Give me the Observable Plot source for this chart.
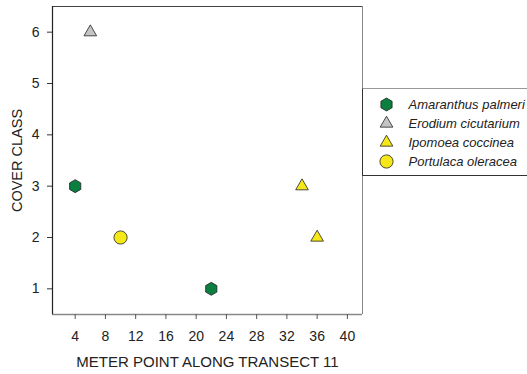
<!DOCTYPE html>
<html><head><meta charset="utf-8">
<script src="https://cdn.jsdelivr.net/npm/d3@7"></script>
<script src="https://cdn.jsdelivr.net/npm/@observablehq/plot@0.6"></script>
<style>
body{margin:0;background:#fff;font-family:"Liberation Sans",Arial,sans-serif;}
#wrap{position:relative;width:527px;height:374px;overflow:hidden;}
#chart{position:absolute;left:0;top:0;}
#legend{position:absolute;left:362px;top:88px;width:170px;height:88px;border-left:1px solid #333;border-top:1px solid #999;border-bottom:1px solid #333;box-sizing:border-box;background:#fff;}
#legend svg{display:block;}
</style></head><body><div id="wrap"><div id="chart"></div><div id="legend"></div></div>
<script>
// ---- data ----
const species = ["Amaranthus palmeri", "Erodium cicutarium", "Ipomoea coccinea", "Portulaca oleracea"];
const pointSpecies = ["Amaranthus palmeri", "Amaranthus palmeri", "Erodium cicutarium", "Ipomoea coccinea", "Ipomoea coccinea", "Portulaca oleracea"];
const meterPoints = [4, 22, 6, 34, 36, 10];
const coverClasses = [3, 1, 6, 3, 2, 2];
const xTicks = [4, 8, 12, 16, 20, 24, 28, 32, 36, 40];
const yTicks = [1, 2, 3, 4, 5, 6];
const xLabel = "METER POINT ALONG TRANSECT 11";
const yLabel = "COVER CLASS";

// ---- styles ----
const style = {
  "Amaranthus palmeri": {symbol: "hexagon", fill: "#0a7f3f", r: 5.6},
  "Erodium cicutarium": {symbol: "triangle", fill: "#c4c4c4", r: 4.7},
  "Ipomoea coccinea": {symbol: "triangle", fill: "#f6e818", r: 4.7},
  "Portulaca oleracea": {symbol: "circle", fill: "#f6e818", r: 6.6}
};
const xDomain = [1, 42];
const yDomain = [0.5, 6.5];

const points = meterPoints.map((m, i) => ({x: m, y: coverClasses[i], s: pointSpecies[i]}));

const chart = Plot.plot({
  width: 527, height: 374,
  marginLeft: 52, marginRight: 165, marginTop: 6, marginBottom: 60,
  style: {fontFamily: "'Liberation Sans', Arial, sans-serif", fontSize: "14px", color: "#222", background: "#fff"},
  x: {domain: xDomain, axis: null},
  y: {domain: yDomain, axis: null},
  symbol: {type: "identity"},
  color: {type: "identity"},
  r: {type: "identity"},
  marks: [
    Plot.ruleY([yDomain[1]], {stroke: "#444", strokeWidth: 1}),
    Plot.ruleX([xDomain[1]], {stroke: "#888", strokeWidth: 1}),
    Plot.ruleY([yDomain[0]], {stroke: "#888", strokeWidth: 1.6}),
    Plot.ruleX([xDomain[0]], {stroke: "#222", strokeWidth: 1.2}),
    Plot.axisX(xTicks, {ticks: xTicks, tickFormat: d => String(d), tickSize: 5, tickPadding: 12, stroke: "#555", fill: "#222", fontSize: 14, label: null}),
    Plot.axisY(yTicks, {ticks: yTicks, tickFormat: d => String(d), tickSize: 5, tickPadding: 8, stroke: "#333", fill: "#222", fontSize: 14, label: null}),
    Plot.text([xLabel], {frameAnchor: "bottom", dy: 52, fontSize: 15, fill: "#222", textAnchor: "middle"}),
    Plot.text([yLabel], {frameAnchor: "left", dx: -35, rotate: -90, fontSize: 14.5, fill: "#222", textAnchor: "middle"}),
    Plot.dot(points, {
      x: "x", y: "y",
      symbol: d => style[d.s].symbol,
      fill: d => style[d.s].fill,
      r: d => style[d.s].r,
      stroke: "#222", strokeWidth: 0.8
    })
  ]
});
document.getElementById("chart").append(chart);

const legend = Plot.plot({
  width: 168, height: 86,
  margin: 0,
  style: {fontFamily: "'Liberation Sans', Arial, sans-serif", background: "transparent"},
  x: {domain: [0, 168], range: [0, 168], axis: null},
  y: {domain: species, type: "point", padding: 0, range: [15, 72], axis: null},
  symbol: {type: "identity"},
  color: {type: "identity"},
  r: {type: "identity"},
  marks: [
    Plot.dot(species, {
      x: () => 23, y: d => d,
      symbol: d => style[d].symbol,
      fill: d => style[d].fill,
      r: d => style[d].r,
      stroke: "#222", strokeWidth: 0.8
    }),
    Plot.text(species, {x: () => 45, y: d => d, text: d => d, textAnchor: "start", fontStyle: "italic", fontSize: 13, fill: "#222"})
  ]
});
document.getElementById("legend").append(legend);
</script>
</body></html>
